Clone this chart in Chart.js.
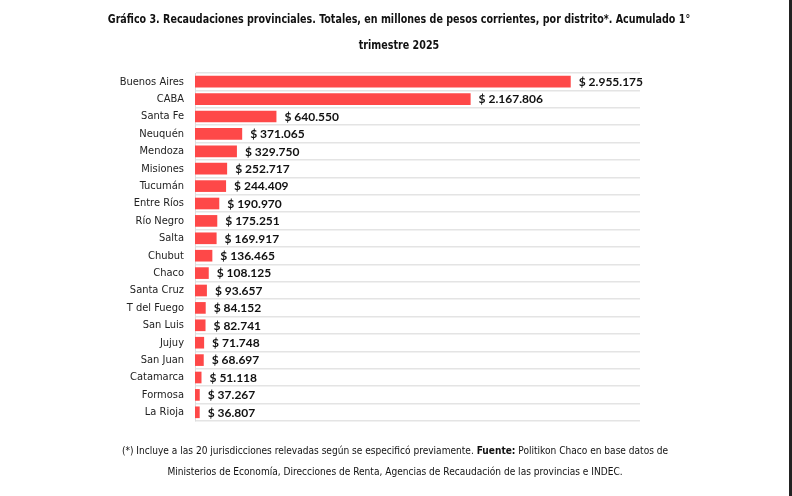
<!DOCTYPE html>
<html>
<head>
<meta charset="utf-8">
<script src="https://cdn.jsdelivr.net/npm/chart.js@4/dist/chart.umd.min.js"></script>
<style>
  html, body { margin: 0; padding: 0; background: #ffffff; }
  #wrap { position: relative; width: 792px; height: 496px; overflow: hidden; background: #fff; }
  #c { position: absolute; left: 0; top: 0; }
  .txt { position: absolute; left: 0; width: 792px; text-align: center; color: #111; white-space: nowrap;
         font-family: 'DejaVu Sans Condensed', 'Roboto Condensed', 'Arial Narrow', sans-serif; }
  #title { top: 6px; left: 3px; font-weight: bold; font-size: 12.5px; line-height: 26px; transform: scaleX(0.85); transform-origin: 50% 50%; }
  #foot { top: 440px; left: -1px; font-size: 11px; line-height: 21px; transform: scaleX(0.915); transform-origin: 50% 50%; }
  #edge { position: absolute; left: 789px; top: 0; width: 3px; height: 496px; background: #222; }
</style>
</head>
<body>
<div id="wrap">
  <canvas id="c" width="792" height="496"></canvas>
  <div class="txt" id="title">Gráfico 3. Recaudaciones provinciales. Totales, en millones de pesos corrientes, por distrito*. Acumulado 1°<br>trimestre 2025</div>
  <div class="txt" id="foot">(*) Incluye a las 20 jurisdicciones relevadas según se especificó previamente. <b>Fuente:</b> Politikon Chaco en base datos de<br>Ministerios de Economía, Direcciones de Renta, Agencias de Recaudación de las provincias e INDEC.</div>
  <div id="edge"></div>
</div>
<script>
const categories = ['Buenos Aires','CABA','Santa Fe','Neuquén','Mendoza','Misiones','Tucumán','Entre Ríos','Río Negro','Salta','Chubut','Chaco','Santa Cruz','T del Fuego','San Luis','Jujuy','San Juan','Catamarca','Formosa','La Rioja'];
const values = [2955175, 2167806, 640550, 371065, 329750, 252717, 244409, 190970, 175251, 169917, 136465, 108125, 93657, 84152, 82741, 71748, 68697, 51118, 37267, 36807];
const axisMax = 3500000;

function fmt(v) {
  return '$ ' + String(v).replace(/\B(?=(\d{3})+(?!\d))/g, '.');
}

const labelFont = "'DejaVu Sans Condensed', 'Roboto Condensed', sans-serif";

const valueLabels = {
  id: 'valueLabels',
  afterDatasetsDraw(chart) {
    const ctx = chart.ctx;
    const meta = chart.getDatasetMeta(0);
    ctx.save();
    ctx.font = "bold 12px Lato, 'Open Sans', sans-serif";
    ctx.fillStyle = '#111';
    ctx.textAlign = 'left';
    ctx.textBaseline = 'middle';
    meta.data.forEach((bar, i) => {
      ctx.fillText(fmt(values[i]), bar.x + 8, bar.y + 0.5);
    });
    ctx.restore();
  }
};

new Chart(document.getElementById('c'), {
  type: 'bar',
  data: {
    labels: categories,
    datasets: [{
      data: values,
      backgroundColor: '#fe4848',
      borderWidth: 0,
      barPercentage: 0.67,
      categoryPercentage: 1.0
    }]
  },
  options: {
    indexAxis: 'y',
    responsive: false,
    animation: false,
    devicePixelRatio: 1,
    layout: { padding: { left: 0, right: 152, top: 73, bottom: 75 } },
    plugins: { legend: { display: false }, tooltip: { enabled: false } },
    scales: {
      x: {
        display: false,
        min: 0,
        max: axisMax,
        grid: { display: false }
      },
      y: {
        afterFit(scale) { scale.width = 195; },
        border: { display: true, color: '#dcdcdc', width: 1 },
        grid: { display: true, offset: true, color: '#e4e4e4', lineWidth: 1.6, drawTicks: false },
        ticks: { color: '#222', font: { family: labelFont, size: 11 }, padding: 11 }
      }
    }
  },
  plugins: [valueLabels]
});
</script>
</body>
</html>
